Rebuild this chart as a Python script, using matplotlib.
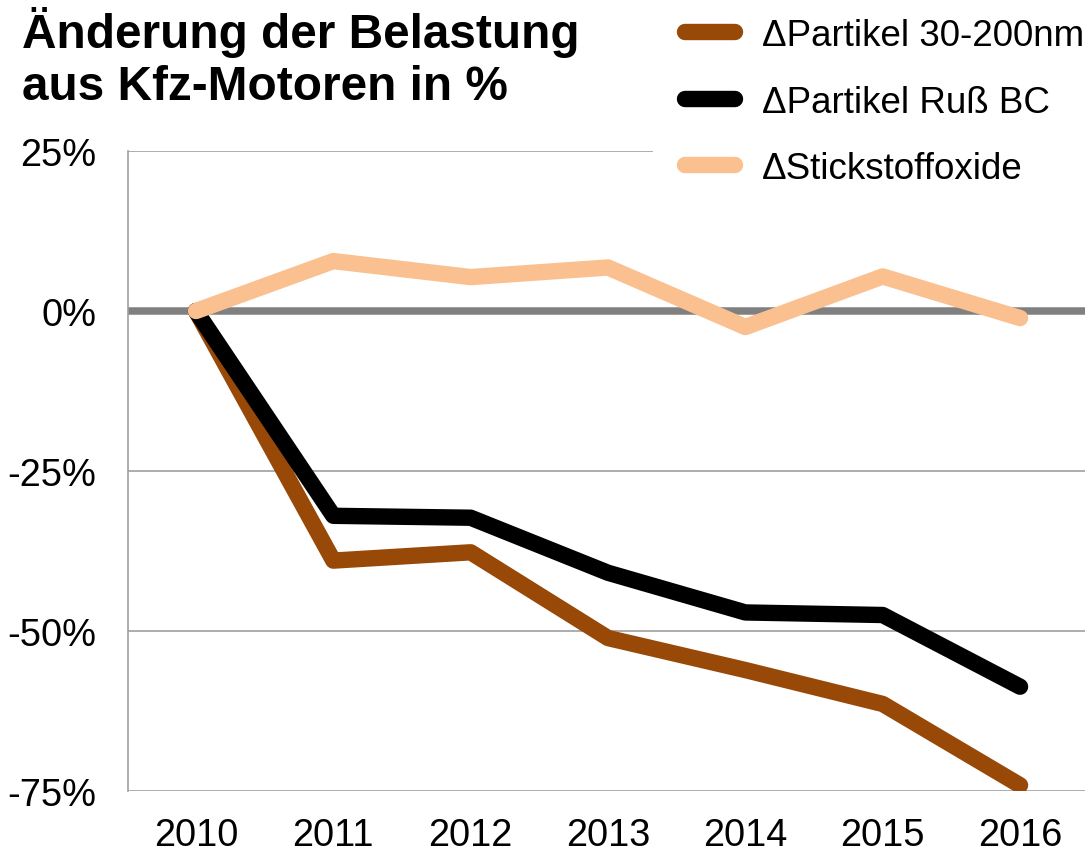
import matplotlib
matplotlib.use('Agg')
import matplotlib.pyplot as plt

# ─── DATA ────────────────────────────────────────────────────────
years = ['2010', '2011', '2012', '2013', '2014', '2015', '2016']
partikel_30_200 = [0.0, -39.0, -37.7, -51.1, -56.1, -61.4, -74.1]
partikel_russ = [0.0, -32.0, -32.3, -40.9, -47.1, -47.5, -58.7]
stickstoffoxide = [0.0, 7.8, 5.3, 6.8, -2.5, 5.4, -1.1]

series_labels = ['\u0394Partikel 30-200nm', '\u0394Partikel Ruß BC', '\u0394Stickstoffoxide']
series_colors = ['#984807', '#000000', '#FAC090']
y_ticks = [25, 0, -25, -50, -75]
y_ticklabels = ['25%', '0%', '-25%', '-50%', '-75%']
title = 'Änderung der Belastung\naus Kfz-Motoren in %'

plt.rcParams['font.family'] = ['Liberation Sans', 'DejaVu Sans']

fig = plt.figure(figsize=(10.92, 8.53), dpi=100)
ax = fig.add_axes([0.1172, 0.0715, 0.8764, 0.7503])

x = list(range(len(years)))
# ── grid + zero line ─────────────────────────────────────────────
for yt in y_ticks:
    if yt != 0:
        ax.axhline(yt, color='#A0A0A0', linewidth=1.2, zorder=1)
ax.axhline(0, color='#808080', linewidth=5.4, zorder=2)

# ── series ───────────────────────────────────────────────────────
for vals, lab, col in zip([partikel_30_200, partikel_russ, stickstoffoxide],
                          series_labels, series_colors):
    ax.plot(x, vals, color=col, linewidth=11.8, label=lab,
            solid_capstyle='round', solid_joinstyle='round', zorder=3)

ax.set_xlim(-0.495, 6.473)
ax.set_ylim(-75, 25)
ax.set_xticks(x)
ax.set_xticklabels(years, fontsize=27.4)
ax.set_yticks(y_ticks)
ax.set_yticklabels(y_ticklabels, fontsize=27.4)
ax.tick_params(axis='both', length=0)
ax.tick_params(axis='y', pad=23)
ax.tick_params(axis='x', pad=19)

for side in ['top', 'right', 'bottom']:
    ax.spines[side].set_visible(False)
ax.spines['left'].set_color('#A0A0A0')
ax.spines['left'].set_linewidth(1.2)

# ── title + legend ───────────────────────────────────────────────
fig.text(0.02, 0.992, title, ha='left', va='top', fontsize=34.4,
         fontweight='bold', linespacing=1.2)

leg = fig.legend(loc='upper left', bbox_to_anchor=(0.598, 1.015),
                 fontsize=26.5, frameon=True, facecolor='white',
                 edgecolor='none', framealpha=1, borderpad=0.86,
                 handlelength=1.37, handletextpad=0.73, labelspacing=0.86,
                 borderaxespad=0)
for line in leg.get_lines():
    line.set_linewidth(11.8)
    line.set_solid_capstyle('round')

fig.savefig('out.png', dpi=100)
